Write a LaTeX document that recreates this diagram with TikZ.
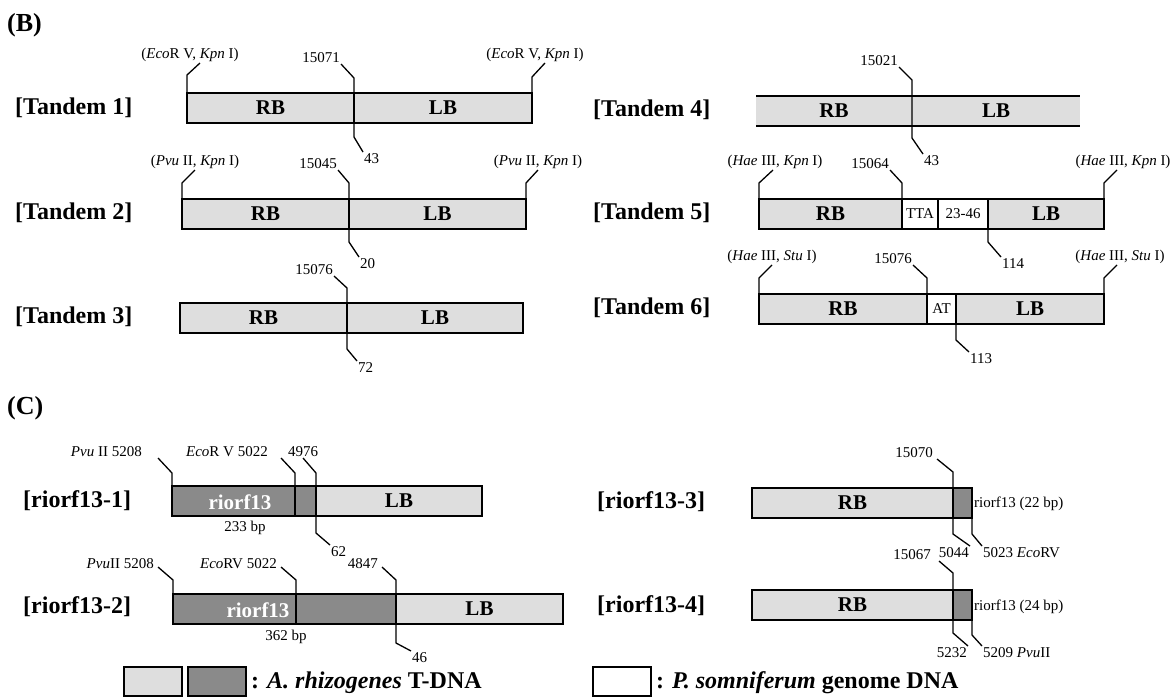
\documentclass[tikz,border=0pt]{standalone}
\usepackage{fontspec}
\setmainfont{Liberation Serif}
\usepackage{tikz}
\usetikzlibrary{positioning}
\definecolor{tdnaL}{RGB}{222,222,222}
\definecolor{tdnaD}{RGB}{138,138,138}

\begin{document}
\begin{tikzpicture}[
  x=1pt,y=-1pt,
  every node/.style={font=\fontsize{15}{15}\selectfont,inner sep=1pt},
  panel/.style={anchor=west,font=\bfseries\fontsize{26}{26}\selectfont},
  tag/.style={anchor=west,font=\bfseries\fontsize{24}{24}\selectfont},
  seg/.style={draw,line width=1.6pt,anchor=north west,inner sep=0pt,outer sep=0pt,minimum height=30pt,font=\bfseries\fontsize{21}{21}\selectfont},
  tlight/.style={seg,fill=tdnaL},
  tdark/.style={seg,fill=tdnaD,text=white},
  gdna/.style={seg,fill=white,font=\fontsize{15}{15}\selectfont},
  gene/.style={font=\bfseries\fontsize{21}{21}\selectfont,text=white},
  keytext/.style={anchor=west,font=\bfseries\fontsize{24}{24}\selectfont},
  leader/.style={line width=1.3pt}
]
\useasboundingbox (0,0) rectangle (1173,697);

\node[panel] (pB) at (6,25) {(B)};
\node[tag] (tag1) at (14,108) {[Tandem 1]};
\node[tag] (tag2) at (14,213) {[Tandem 2]};
\node[tag] (tag3) at (14,317) {[Tandem 3]};
\node[tag] (tag4) at (592,110) {[Tandem 4]};
\node[tag] (tag5) at (592,213) {[Tandem 5]};
\node[tag] (tag6) at (592,308) {[Tandem 6]};

\node[tlight,minimum width=167pt] (t1rb) at (187,93) {RB};
\node[tlight,minimum width=178pt] (t1lb) at (354,93) {LB};
\node[anchor=south] (t1s1) at (190,63) {(\textit{Eco}R V, \textit{Kpn} I)};
\node[anchor=south east] (t1j) at (341,64) {15071};
\node[anchor=north west] (t1k) at (363,152) {43};
\node[anchor=south] (t1s2) at (535,63) {(\textit{Eco}R V, \textit{Kpn} I)};
\draw[leader] (t1rb.north west) -- ++(0,-18) -- ([xshift=10pt]t1s1.south);
\draw[leader] (t1rb.north east) -- ++(0,-15) -- (t1j.south east);
\draw[leader] (t1rb.north east) -- ++(0,44) -- (t1k.north west);
\draw[leader] (t1lb.north east) -- ++(0,-16) -- ([xshift=10pt]t1s2.south);

\node[tlight,minimum width=167pt] (t2rb) at (182,199) {RB};
\node[tlight,minimum width=177pt] (t2lb) at (349,199) {LB};
\node[anchor=south] (t2s1) at (195,170) {(\textit{Pvu} II, \textit{Kpn} I)};
\node[anchor=south east] (t2j) at (338,170) {15045};
\node[anchor=north west] (t2k) at (359,257) {20};
\node[anchor=south] (t2s2) at (538,170) {(\textit{Pvu} II, \textit{Kpn} I)};
\draw[leader] (t2rb.north west) -- ++(0,-16) -- (t2s1.south);
\draw[leader] (t2rb.north east) -- ++(0,-16) -- (t2j.south east);
\draw[leader] (t2rb.south east) -- ++(0,13) -- (t2k.north west);
\draw[leader] (t2lb.north east) -- ++(0,-16) -- (t2s2.south);

\node[tlight,minimum width=167pt] (t3rb) at (180,303) {RB};
\node[tlight,minimum width=176pt] (t3lb) at (347,303) {LB};
\node[anchor=south east] (t3j) at (334,276) {15076};
\node[anchor=north west] (t3k) at (357,361) {72};
\draw[leader] (t3rb.north east) -- ++(0,-15) -- (t3j.south east);
\draw[leader] (t3rb.south east) -- ++(0,16) -- (t3k.north west);

\node[tlight,draw=none,minimum width=156pt] (t4rb) at (756,96) {RB};
\node[tlight,draw=none,minimum width=168pt] (t4lb) at (912,96) {LB};
\draw[line width=1.6pt] (t4rb.north west) -- (t4lb.north east);
\draw[line width=1.6pt] (t4rb.south west) -- (t4lb.south east);
\node[anchor=south east] (t4j) at (899,67) {15021};
\node[anchor=north west] (t4k) at (923,154) {43};
\draw[leader] (t4rb.north east) -- ++(0,-16) -- (t4j.south east);
\draw[leader] (t4rb.north east) -- ++(0,42) -- (t4k.north west);

\node[tlight,minimum width=143pt] (t5rb) at (759,199) {RB};
\node[gdna,minimum width=36pt] (t5tta) at (902,199) {TTA};
\node[gdna,minimum width=50pt] (t5mid) at (938,199) {23-46};
\node[tlight,minimum width=116pt] (t5lb) at (988,199) {LB};
\node[anchor=south] (t5s1) at (775,170) {(\textit{Hae} III, \textit{Kpn} I)};
\node[anchor=south east] (t5j) at (890,170) {15064};
\node[anchor=north west] (t5k) at (1001,257) {114};
\node[anchor=south] (t5s2) at (1123,170) {(\textit{Hae} III, \textit{Kpn} I)};
\draw[leader] (t5rb.north west) -- ++(0,-16) -- ([xshift=-2pt]t5s1.south);
\draw[leader] (t5rb.north east) -- ++(0,-16) -- (t5j.south east);
\draw[leader] (t5mid.south east) -- ++(0,13) -- (t5k.north west);
\draw[leader] (t5lb.north east) -- ++(0,-16) -- ([xshift=-6pt]t5s2.south);

\node[tlight,minimum width=168pt] (t6rb) at (759,294) {RB};
\node[gdna,minimum width=29pt] (t6at) at (927,294) {AT};
\node[tlight,minimum width=148pt] (t6lb) at (956,294) {LB};
\node[anchor=south] (t6s1) at (772,265) {(\textit{Hae} III, \textit{Stu} I)};
\node[anchor=south east] (t6j) at (913,265) {15076};
\node[anchor=north west] (t6k) at (969,352) {113};
\node[anchor=south] (t6s2) at (1120,265) {(\textit{Hae} III, \textit{Stu} I)};
\draw[leader] (t6rb.north west) -- ++(0,-16) -- (t6s1.south);
\draw[leader] (t6rb.north east) -- ++(0,-16) -- (t6j.south east);
\draw[leader] (t6at.south east) -- ++(0,16) -- (t6k.north west);
\draw[leader] (t6lb.north east) -- ++(0,-16) -- ([xshift=-3pt]t6s2.south);

\node[panel] (pC) at (6,408) {(C)};
\node[tag] (tag7) at (22,501) {[riorf13-1]};
\node[tag] (tag8) at (22,607) {[riorf13-2]};
\node[tag] (tag9) at (596,502) {[riorf13-3]};
\node[tag] (tag10) at (596,606) {[riorf13-4]};

\node[tdark,minimum width=123pt] (r1rf) at (172,486) {};
\node[tdark,minimum width=21pt] (r1tail) at (295,486) {};
\node[tlight,minimum width=166pt] (r1lb) at (316,486) {LB};
\node[gene] (r1txt) at (240,502) {riorf13};
\node (r1bp) at (245,528) {233 bp};
\node[anchor=south east] (r1pvu) at (143,458) {\textit{Pvu} II 5208};
\node[anchor=south east] (r1eco) at (269,458) {\textit{Eco}R V 5022};
\node[anchor=south] (r1j) at (303,458) {4976};
\node[anchor=north west] (r1k) at (330,545) {62};
\draw[leader] (r1rf.north west) -- ++(0,-13) -- ([xshift=15pt]r1pvu.south east);
\draw[leader] (r1rf.north east) -- ++(0,-13) -- ([xshift=12pt]r1eco.south east);
\draw[leader] (r1tail.north east) -- ++(0,-13) -- (r1j.south);
\draw[leader] (r1tail.south east) -- ++(0,17) -- (r1k.north west);

\node[tdark,minimum width=123pt] (r2rf) at (173,594) {};
\node[tdark,minimum width=100pt] (r2tail) at (296,594) {};
\node[tlight,minimum width=167pt] (r2lb) at (396,594) {LB};
\node[gene] (r2txt) at (258,610) {riorf13};
\node (r2bp) at (286,637) {362 bp};
\node[anchor=east] (r2pvu) at (155,564) {\textit{Pvu}II 5208};
\node[anchor=east] (r2eco) at (278,564) {\textit{Eco}RV 5022};
\node[anchor=east] (r2j) at (379,564) {4847};
\node[anchor=north west] (r2k) at (411,651) {46};
\draw[leader] (r2rf.north west) -- ++(0,-14) -- ([xshift=3pt,yshift=-3pt]r2pvu.east);
\draw[leader] (r2rf.north east) -- ++(0,-14) -- ([xshift=3pt,yshift=-3pt]r2eco.east);
\draw[leader] (r2tail.north east) -- ++(0,-14) -- ([xshift=3pt,yshift=-3pt]r2j.east);
\draw[leader] (r2tail.south east) -- ++(0,19) -- (r2k.north west);

\node[tlight,minimum width=201pt] (r3rb) at (752,488) {RB};
\node[tdark,minimum width=19pt] (r3rf) at (953,488) {};
\node[anchor=west] (r3note) at (973,504) {riorf13 (22 bp)};
\node[anchor=south east] (r3j) at (934,459) {15070};
\node[anchor=north east] (r3k) at (970,546) {5044};
\node[anchor=north west] (r3m) at (982,546) {5023 \textit{Eco}RV};
\draw[leader] (r3rb.north east) -- ++(0,-16) -- ([xshift=3pt]r3j.south east);
\draw[leader] (r3rb.south east) -- ++(0,16) -- (r3k.north east);
\draw[leader] (r3rf.south east) -- ++(0,16) -- (r3m.north west);

\node[tlight,minimum width=201pt] (r4rb) at (752,590) {RB};
\node[tdark,minimum width=19pt] (r4rf) at (953,590) {};
\node[anchor=west] (r4note) at (973,607) {riorf13 (24 bp)};
\node[anchor=south east] (r4j) at (932,561) {15067};
\node[anchor=north east] (r4k) at (968,646) {5232};
\node[anchor=north west] (r4m) at (982,646) {5209 \textit{Pvu}II};
\draw[leader] (r4rb.north east) -- ++(0,-17) -- ([xshift=7pt]r4j.south east);
\draw[leader] (r4rb.south east) -- ++(0,13) -- (r4k.north east);
\draw[leader] (r4rf.south east) -- ++(0,15) -- (r4m.north west);

\node[tlight,minimum width=58pt,minimum height=29pt] (keyL) at (124,667) {};
\node[tdark,minimum width=58pt,minimum height=29pt] (keyD) at (188,667) {};
\node[keytext] (keyA) at (250,683) {: \textit{A. rhizogenes} T-DNA};
\node[gdna,minimum width=58pt,minimum height=29pt] (keyW) at (593,667) {};
\node[keytext] (keyP) at (655,683) {: \textit{P. somniferum} genome DNA};
\end{tikzpicture}
\end{document}
